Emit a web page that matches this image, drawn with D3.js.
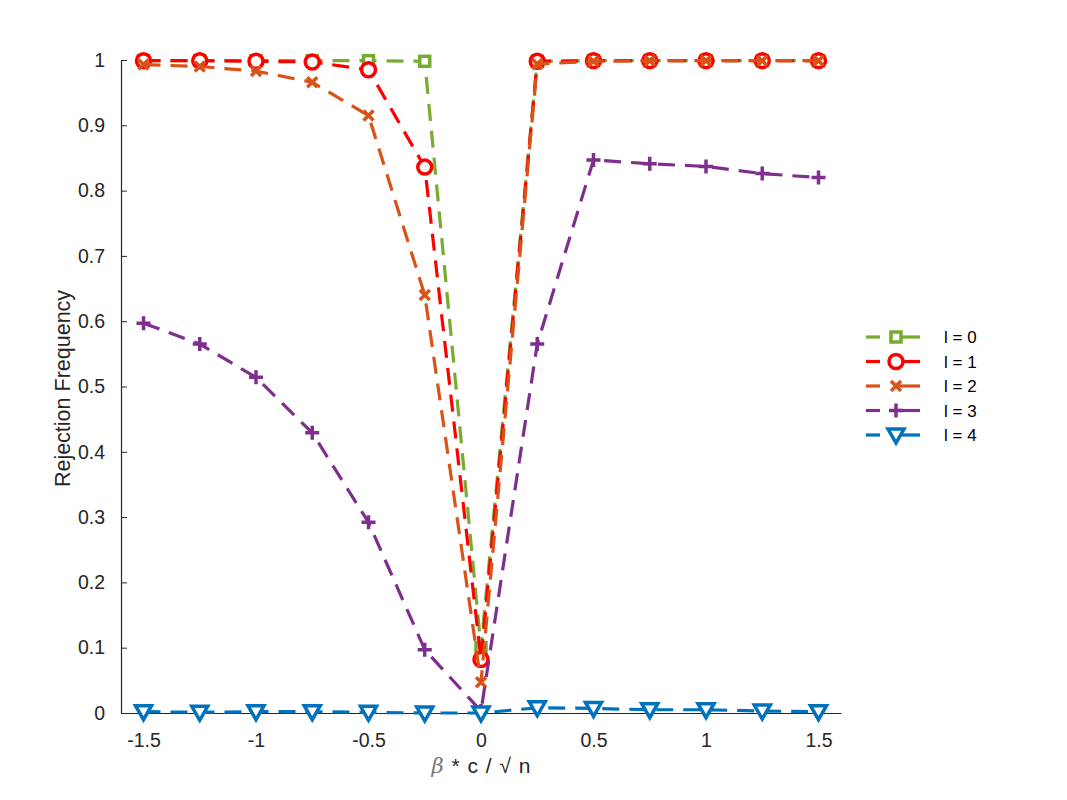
<!DOCTYPE html>
<html>
<head>
<meta charset="utf-8">
<script src="https://cdn.jsdelivr.net/npm/d3@7"></script>
<style>
  body { margin: 0; background: #fff; }
  text { font-family: "Liberation Sans", Arial, sans-serif; }
</style>
</head>
<body>
<svg id="chart" width="1067" height="800"></svg>
<script>
// x positions (beta * c / sqrt n)
var xVals = [-1.5, -1.25, -1, -0.75, -0.5, -0.25, 0, 0.25, 0.5, 0.75, 1, 1.25, 1.5];

// rejection frequencies per l
var l0 = [0.999, 0.999, 0.999, 0.999, 0.999, 0.998, 0.10, 0.998, 0.999, 0.999, 0.999, 0.999, 0.999];
var l1 = [0.999, 0.999, 0.998, 0.997, 0.985, 0.836, 0.082, 0.998, 0.999, 0.999, 0.999, 0.999, 0.999];
var l2 = [0.993, 0.990, 0.983, 0.966, 0.915, 0.640, 0.047, 0.994, 0.998, 0.999, 0.999, 0.999, 0.999];
var l3 = [0.597, 0.565, 0.514, 0.429, 0.292, 0.097, 0.003, 0.565, 0.847, 0.841, 0.837, 0.826, 0.820];
var l4 = [0.002, 0.001, 0.002, 0.002, 0.001, 0.000, 0.000, 0.008, 0.007, 0.005, 0.005, 0.003, 0.002];

var xTicks = [-1.5, -1, -0.5, 0, 0.5, 1, 1.5];
var yTicks = [0, 0.1, 0.2, 0.3, 0.4, 0.5, 0.6, 0.7, 0.8, 0.9, 1];

var series = [
  { name: "l = 0", values: l0, color: "#77AC30", marker: "square" },
  { name: "l = 1", values: l1, color: "#FF0000", marker: "circle" },
  { name: "l = 2", values: l2, color: "#D95319", marker: "cross" },
  { name: "l = 3", values: l3, color: "#7E2F8E", marker: "plus" },
  { name: "l = 4", values: l4, color: "#0072BD", marker: "triangle" }
];

var svg = d3.select("#chart"),
    plotLeft = 121, plotRight = 841, plotTop = 60, plotBottom = 713;

var x = d3.scaleLinear().domain([-1.6, 1.6]).range([plotLeft, plotRight]);
var y = d3.scaleLinear().domain([0, 1]).range([plotBottom, plotTop]);

// axes (MATLAB style, ticks pointing inward)
var xAxis = svg.append("g")
    .attr("transform", "translate(0," + plotBottom + ")")
    .call(d3.axisBottom(x).tickValues(xTicks).tickSizeInner(-6).tickSizeOuter(0).tickPadding(20)
      .tickFormat(function (d) { return String(d); }));
var yAxis = svg.append("g")
    .attr("transform", "translate(" + plotLeft + ",0)")
    .call(d3.axisLeft(y).tickValues(yTicks).tickSizeInner(-6).tickSizeOuter(0).tickPadding(16)
      .tickFormat(function (d) { return String(d); }));

[xAxis, yAxis].forEach(function (a) {
  a.select(".domain").attr("stroke", "#262626").attr("stroke-width", 1.2);
  a.selectAll(".tick line").attr("stroke", "#262626");
  a.selectAll(".tick text").attr("fill", "#262626").style("font-size", "19.5px");
});

// axis labels
var xl = svg.append("text")
    .attr("x", x(0)).attr("y", 773)
    .attr("text-anchor", "middle")
    .style("font-size", "21px").attr("fill", "#262626")
    .style("word-spacing", "2px");
xl.append("tspan").text("\u03B2").style("font-family", "DejaVu Serif").style("font-style", "italic").attr("fill", "#777");
xl.append("tspan").text(" * c / \u221A n");

svg.append("text")
    .attr("transform", "translate(70," + ((plotTop + plotBottom) / 2 + 2) + ") rotate(-90)")
    .attr("text-anchor", "middle")
    .style("font-size", "21.5px").attr("fill", "#262626")
    .text("Rejection Frequency");

var line = d3.line()
    .x(function (d) { return x(d[0]); })
    .y(function (d) { return y(d[1]); });

function drawMarker(g, m, cx, cy, color) {
  if (m === "square") {
    g.append("rect").attr("x", cx - 5).attr("y", cy - 5).attr("width", 10).attr("height", 10)
      .attr("fill", "#fff").attr("stroke", color).attr("stroke-width", 3.5);
  } else if (m === "circle") {
    g.append("circle").attr("cx", cx).attr("cy", cy).attr("r", 7)
      .attr("fill", "#fff").attr("stroke", color).attr("stroke-width", 3.5);
  } else if (m === "cross") {
    g.append("path").attr("d", "M" + (cx - 5) + "," + (cy - 5) + "L" + (cx + 5) + "," + (cy + 5) +
        "M" + (cx - 5) + "," + (cy + 5) + "L" + (cx + 5) + "," + (cy - 5))
      .attr("stroke", color).attr("stroke-width", 3.5);
  } else if (m === "plus") {
    g.append("path").attr("d", "M" + (cx - 7) + "," + cy + "L" + (cx + 7) + "," + cy +
        "M" + cx + "," + (cy - 7) + "L" + cx + "," + (cy + 7))
      .attr("stroke", color).attr("stroke-width", 3.5);
  } else if (m === "triangle") {
    g.append("path").attr("d", "M" + (cx - 8) + "," + (cy - 6) + "L" + (cx + 8) + "," + (cy - 6) +
        "L" + cx + "," + (cy + 8) + "Z")
      .attr("fill", "#fff").attr("stroke", color).attr("stroke-width", 3.5).attr("stroke-linejoin", "miter");
  }
}

series.forEach(function (s) {
  var pts = xVals.map(function (v, i) { return [v, s.values[i]]; });
  var g = svg.append("g");
  g.append("path")
    .datum(pts)
    .attr("d", line)
    .attr("fill", "none")
    .attr("stroke", s.color)
    .attr("stroke-width", 3.2)
    .attr("stroke-dasharray", "17,10");
  pts.forEach(function (p) { drawMarker(g, s.marker, x(p[0]), y(p[1]), s.color); });
});

// legend
var legend = svg.append("g");
series.forEach(function (s, i) {
  var ly = 337 + i * 24.5;
  var g = legend.append("g");
  g.append("line").attr("x1", 866).attr("x2", 880).attr("y1", ly).attr("y2", ly)
    .attr("stroke", s.color).attr("stroke-width", 3.2);
  g.append("line").attr("x1", 896).attr("x2", 920).attr("y1", ly).attr("y2", ly)
    .attr("stroke", s.color).attr("stroke-width", 3.2);
  drawMarker(g, s.marker, 896, ly, s.color);
  g.append("text").attr("x", 944).attr("y", ly + 6)
    .style("font-size", "17px").attr("fill", "#000").text(s.name);
});
</script>
</body>
</html>
